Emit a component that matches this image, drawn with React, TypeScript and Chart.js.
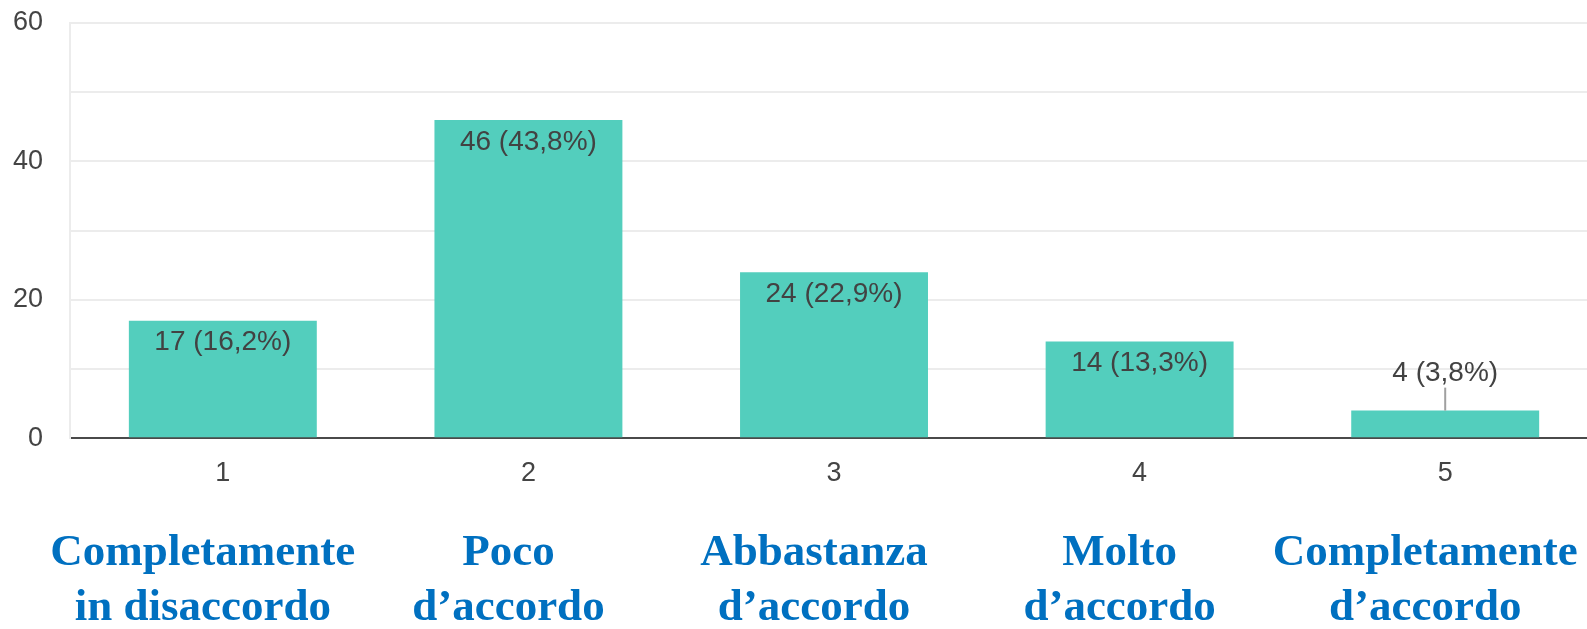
import { useEffect, useRef } from "react";
import { Chart, registerables } from "chart.js";

Chart.register(...registerables);

const categories = ["1", "2", "3", "4", "5"];
const counts = [17, 46, 24, 14, 4];
const descriptions = [
  ["Completamente", "in disaccordo"],
  ["Poco", "d’accordo"],
  ["Abbastanza", "d’accordo"],
  ["Molto", "d’accordo"],
  ["Completamente", "d’accordo"],
];
const yLabelled = [0, 20, 40, 60];

const SANS = "'Liberation Sans', Arial, sans-serif";
const SERIF = "'Liberation Serif', 'Times New Roman', serif";

const valueLabels = {
  id: "valueLabels",
  afterDatasetsDraw(chart: any) {
    const ctx = chart.ctx as CanvasRenderingContext2D;
    const meta = chart.getDatasetMeta(0);
    const data = chart.data.datasets[0].data as number[];
    const total = data.reduce((a, b) => a + b, 0);
    ctx.save();
    ctx.font = `28px ${SANS}`;
    ctx.fillStyle = "#424242";
    ctx.textAlign = "center";
    ctx.textBaseline = "middle";
    meta.data.forEach((bar: any, i: number) => {
      const { x, y, base } = bar.getProps(["x", "y", "base"], true);
      const v = data[i];
      const pct = ((v / total) * 100).toFixed(1).replace(".", ",");
      const text = `${v} (${pct}%)`;
      if (base - y > 45) {
        ctx.fillText(text, x, y + 22);
      } else {
        ctx.strokeStyle = "#a0a0a0";
        ctx.lineWidth = 2;
        ctx.beginPath();
        ctx.moveTo(x, y);
        ctx.lineTo(x, y - 23);
        ctx.stroke();
        ctx.fillText(text, x, y - 37);
      }
    });
    ctx.restore();
  },
};

const noSidePadding = (s: any) => {
  s.paddingLeft = 0;
  s.paddingRight = 0;
};

export default function App() {
  const ref = useRef<HTMLCanvasElement | null>(null);

  useEffect(() => {
    if (!ref.current) return;
    const chart = new Chart(ref.current, {
      type: "bar",
      data: {
        labels: categories,
        datasets: [
          {
            data: counts,
            backgroundColor: "#53cebd",
            borderWidth: 0,
            categoryPercentage: 1,
            barPercentage: 0.615,
          },
        ],
      },
      options: {
        animation: false,
        responsive: true,
        maintainAspectRatio: false,
        layout: { padding: { left: 13, top: 23, right: 0, bottom: 0 } },
        plugins: { legend: { display: false }, tooltip: { enabled: false } },
        scales: {
          x: {
            type: "category",
            weight: 0,
            grid: { display: false, drawTicks: false },
            border: { display: true, color: "#4a4a4a", width: 2 },
            ticks: { font: { size: 27, family: SANS }, color: "#444", padding: 19 },
            afterFit: (s: any) => {
              noSidePadding(s);
              s.height += 17.5;
            },
          },
          x2: {
            type: "category",
            position: "bottom",
            weight: 1,
            labels: descriptions as any,
            grid: { display: false, drawTicks: false },
            border: { display: false },
            ticks: {
              font: { size: 45, family: SERIF, weight: "bold", lineHeight: 1.22 },
              color: "#0070c0",
              padding: 0,
              labelOffset: -20,
              autoSkip: false,
              maxRotation: 0,
              minRotation: 0,
            },
            afterFit: noSidePadding,
          },
          y: {
            min: 0,
            max: 60,
            grid: { color: "#ececec", lineWidth: 2, drawTicks: false },
            border: { display: true, color: "#ececec", width: 2 },
            ticks: {
              stepSize: 10,
              padding: 27,
              font: { size: 27, family: SANS },
              color: "#444",
              callback: (v: any) => (yLabelled.includes(Number(v)) ? String(v) : ""),
            },
            afterFit: (s: any) => {
              s.paddingTop = 0;
              s.paddingBottom = 0;
              s.width -= 27;
            },
          },
        },
      },
      plugins: [valueLabels],
    });
    return () => chart.destroy();
  }, []);

  return (
    <div
      style={{
        position: "fixed",
        left: 0,
        top: 0,
        width: 1587,
        height: 629,
        overflow: "hidden",
        background: "#fff",
      }}
    >
      <div style={{ position: "relative", width: 1598, height: 636 }}>
        <canvas ref={ref} />
      </div>
    </div>
  );
}
